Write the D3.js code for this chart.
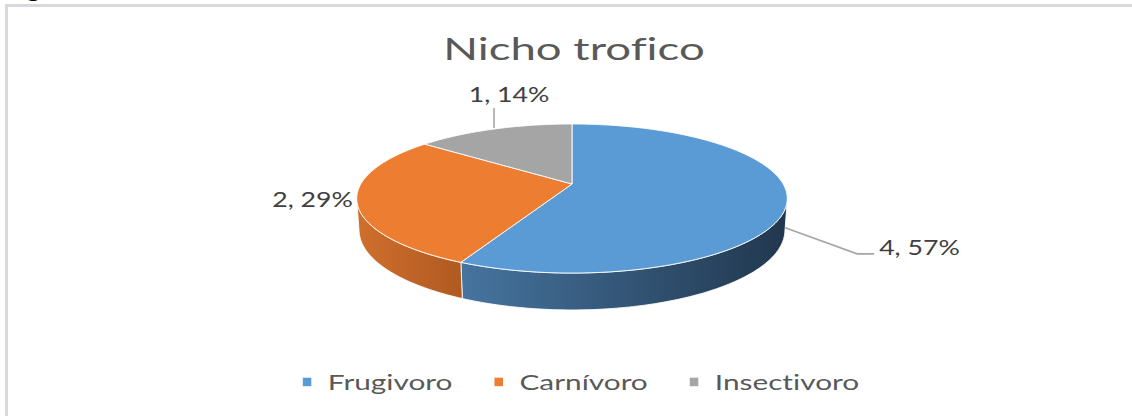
<!DOCTYPE html>
<html>
<head>
<meta charset="utf-8">
<script src="https://cdn.jsdelivr.net/npm/d3@7"></script>
<style>
  html, body { margin: 0; padding: 0; background: #fff; }
  svg { display: block; }
  text { font-variant-ligatures: none; }
</style>
</head>
<body>
<svg id="chart" width="1132" height="416"></svg>
<script>
// ---- data ----
const categories = ["Frugivoro", "Carnívoro", "Insectivoro"];
const values = [4, 2, 1];
const sliceColors = ["#5B9BD5", "#ED7D31", "#A5A5A5"];
const sideColors = [["#46749f", "#21374e"], ["#cf6f2d", "#b05a21"], ["#8c8c8c", "#6e6e6e"]];
const chartTitle = "Nicho trofico";

// ---- setup ----
const W = 1132, H = 416;
const svg = d3.select("#chart");
const FONT = "Lato, 'Open Sans', sans-serif";

// draws text widened horizontally (factor k) around its anchor point
function stretchedText(parent, x, y, str, opts) {
  const k = opts.k || 1.4;
  const g = parent.append("g").attr("transform", `translate(${x},${y}) scale(${k},1)`);
  const t = g.append("text")
    .attr("x", 0).attr("y", 0)
    .attr("font-family", opts.family || FONT)
    .attr("font-size", opts.size)
    .attr("font-weight", opts.weight || "normal")
    .attr("fill", opts.fill)
    .attr("text-anchor", opts.anchor || "start")
    .text(str);
  return t;
}

// chart frame
svg.append("rect")
  .attr("x", 6.5).attr("y", 5.5)
  .attr("width", W).attr("height", H)
  .attr("fill", "none")
  .attr("stroke", "#d9d9d9")
  .attr("stroke-width", 3);

// piece of a caption above the frame
stretchedText(svg, 27, -2.5, "g", { size: 18, weight: "bold", fill: "#000", k: 1.33 });

// title
stretchedText(svg, 574, 60, chartTitle, { size: 31, fill: "#595959", anchor: "middle", k: 1.47 });

// ---- 3D pie: perspective projection of a thin disc ----
const cam = { cx: 572, cy: 184, Fx: 1022, Fy: 1036, D: 4.84, tilt: Math.asin(0.335) };
const thick = 0.154;
const sT = Math.sin(cam.tilt), cT = Math.cos(cam.tilt);

// a: angle clockwise from the back of the disc, r: radius (0..1), h: height (0 = top face)
function project(a, r, h) {
  const x = r * Math.sin(a), z = r * Math.cos(a);
  const v = z * sT + h * cT;
  const w = cam.D + z * cT - h * sT;
  return [cam.cx + cam.Fx * x / w, cam.cy - cam.Fy * v / w];
}

function arcPoints(a0, a1, h) {
  const n = Math.max(2, Math.ceil(Math.abs(a1 - a0) / (Math.PI / 180)));
  return d3.range(n + 1).map(i => project(a0 + (a1 - a0) * i / n, 1, h));
}

const line = d3.line();
const arcs = d3.pie().sort(null).value(d => d).startAngle(0).endAngle(2 * Math.PI)(values);

// outer wall is visible where it faces the camera
const alpha = Math.acos(-1 / (cam.D * cT));
const visLo = alpha, visHi = 2 * Math.PI - alpha;

const defs = svg.append("defs");
const gSides = svg.append("g");
const gTops = svg.append("g");

arcs.forEach((d, i) => {
  const a0 = Math.max(d.startAngle, visLo);
  const a1 = Math.min(d.endAngle, visHi);
  if (a1 > a0) {
    const top = arcPoints(a0, a1, 0);
    const bottom = arcPoints(a1, a0, -thick);
    const pts = top.concat(bottom);
    const xs = pts.map(p => p[0]);
    const gid = "side" + i;
    const grad = defs.append("linearGradient")
      .attr("id", gid)
      .attr("gradientUnits", "userSpaceOnUse")
      .attr("x1", d3.min(xs)).attr("y1", 0)
      .attr("x2", d3.max(xs)).attr("y2", 0);
    grad.append("stop").attr("offset", 0).attr("stop-color", sideColors[i][0]);
    grad.append("stop").attr("offset", 1).attr("stop-color", sideColors[i][1]);
    gSides.append("path")
      .attr("d", line(pts) + "Z")
      .attr("fill", `url(#${gid})`)
      .attr("stroke", "#ffffff")
      .attr("stroke-opacity", 0.85)
      .attr("stroke-width", 1)
      .attr("stroke-linejoin", "round");
  }
  const face = [project(0, 0, 0)].concat(arcPoints(d.startAngle, d.endAngle, 0));
  gTops.append("path")
    .attr("d", line(face) + "Z")
    .attr("fill", sliceColors[i])
    .attr("stroke", "#ffffff")
    .attr("stroke-opacity", 0.9)
    .attr("stroke-width", 1)
    .attr("stroke-linejoin", "round");
});

// ---- data labels ----
const total = d3.sum(values);
const labelText = v => `${v}, ${Math.round(v / total * 100)}%`;
const gLabels = svg.append("g");
const LABEL = { size: 20.5, fill: "#404040", k: 1.3 };
const leaderStyle = sel => sel.attr("fill", "none").attr("stroke", "#a6a6a6").attr("stroke-width", 1.6);

arcs.forEach((d, i) => {
  const mid = (d.startAngle + d.endAngle) / 2;
  const txt = labelText(values[i]);
  if (i === 0) {
    // label to the right with bent leader line
    const p = project(mid, 1, -thick * 0.85);
    const elbow = [p[0] + 72, p[1] + 26];
    gLabels.append("path")
      .attr("d", line([p, elbow, [elbow[0] + 17, elbow[1]]]))
      .call(leaderStyle);
    stretchedText(gLabels, elbow[0] + 22, elbow[1] + 1, txt, LABEL);
  } else if (i === 1) {
    // label just outside the left edge
    const p = project(mid, 1, 0);
    stretchedText(gLabels, p[0] - 4, p[1] + 6, txt, Object.assign({ anchor: "end" }, LABEL));
  } else {
    // label above with vertical leader line
    const p = project(mid, 1, 0);
    gLabels.append("path")
      .attr("d", line([[p[0], p[1] - 1], [p[0], p[1] - 21]]))
      .call(leaderStyle);
    stretchedText(gLabels, p[0] + 15, p[1] - 27, txt, Object.assign({ anchor: "middle" }, LABEL));
  }
});

// ---- legend ----
const LEGEND = { size: 21, fill: "#595959", k: 1.42 };
const legendCenter = 581, legendBaseline = 390;
const gLegend = svg.append("g");
const items = categories.map((c, i) => {
  const g = gLegend.append("g");
  g.append("rect").attr("x", 0).attr("y", -12.3).attr("width", 8.5).attr("height", 8.5).attr("fill", sliceColors[i]);
  const t = stretchedText(g, 25, 0, c, LEGEND);
  const w = 25 + t.node().getComputedTextLength() * LEGEND.k;
  return { g, w };
});
const gap = 42;
const totalW = d3.sum(items, d => d.w) + gap * (items.length - 1);
let xPos = legendCenter - totalW / 2;
items.forEach(it => {
  it.g.attr("transform", `translate(${xPos},${legendBaseline})`);
  xPos += it.w + gap;
});
</script>
</body>
</html>
